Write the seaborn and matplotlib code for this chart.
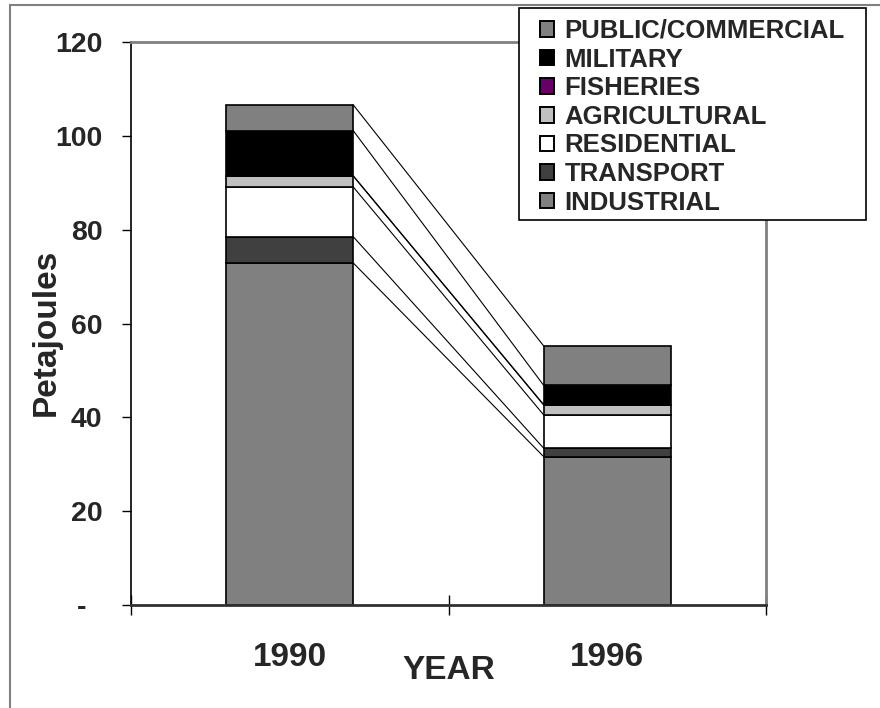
import numpy as np
import seaborn as sns
import matplotlib.pyplot as plt
from matplotlib.patches import Patch, Rectangle
from matplotlib.ticker import FixedLocator

# valeurs (Petajoules)
years = ['1990', '1996']
sectors = ['INDUSTRIAL', 'TRANSPORT', 'RESIDENTIAL', 'AGRICULTURAL',
           'FISHERIES', 'MILITARY', 'PUBLIC/COMMERCIAL']
industrial = [72.9, 31.6]
transport = [5.6, 1.8]
residential = [10.6, 7.1]
agricultural = [2.3, 2.1]
fisheries = [0.1, 0.1]
military = [9.6, 4.1]
public_commercial = [5.5, 8.4]
y_ticks = [0, 20, 40, 60, 80, 100, 120]
y_tick_labels = ['-  ', '20', '40', '60', '80', '100', '120']

colours = ['#808080', '#404040', '#ffffff', '#c0c0c0', '#660066', '#000000', '#808080']

sns.set_style('white')
plt.rcParams['font.family'] = ['Liberation Sans', 'DejaVu Sans']
plt.rcParams['font.weight'] = 'bold'

fig = plt.figure(figsize=(8.8, 7.08), dpi=100)
ax = fig.add_axes([131/880, 1-605/708, (766-131)/880, (605-42)/708])

# barres empilées
values = [industrial, transport, residential, agricultural, fisheries, military, public_commercial]
bottom = np.zeros(len(years))
tops = []
for name, vals, col in zip(sectors, values, colours):
    sns.barplot(x=years, y=vals, order=years, bottom=bottom, color=col, saturation=1,
                width=0.4, edgecolor='black', linewidth=1.2, errorbar=None, ax=ax)
    bottom = bottom + np.array(vals)
    tops.append(bottom.copy())

# lignes de liaison entre les deux barres
for top in tops:
    ax.plot([0.2, 0.8], top, color='black', lw=0.8, zorder=1)

ax.set_xlim(-0.5, 1.5)
ax.set_ylim(0, 120)
ax.set_yticks(y_ticks)
ax.set_yticklabels(y_tick_labels, fontsize=20.5, fontweight='bold')
ax.tick_params(axis='y', direction='out', length=6.5, width=1, color='black', pad=14, left=True)

ax.set_xticks([0, 1])
ax.set_xticklabels(years, fontsize=24, fontweight='bold')
ax.tick_params(axis='x', which='major', length=0, pad=27)
ax.xaxis.set_minor_locator(FixedLocator([-0.5, 0.5, 1.5]))
ax.tick_params(axis='x', which='minor', direction='inout', length=15, width=1,
               color='black', bottom=True)

ax.set_xlabel('YEAR', fontsize=24, fontweight='bold')
ax.xaxis.set_label_coords(0.5, -0.1155)
ax.xaxis.label.set_va('center')
ax.set_ylabel('Petajoules', fontsize=24, fontweight='bold')
ax.yaxis.set_label_coords(-0.134, 0.485)
ax.yaxis.label.set_va('center')

ax.spines['left'].set_color('black')
ax.spines['left'].set_linewidth(1.2)
ax.spines['bottom'].set_color('#303030')
ax.spines['bottom'].set_linewidth(2)
for s in ['top', 'right']:
    ax.spines[s].set_color('#808080')
    ax.spines[s].set_linewidth(2)

# cadre de la légende
fig.add_artist(Rectangle((519/880, 1-220/708), (866-519)/880, (220-8)/708,
                         transform=fig.transFigure, facecolor='white',
                         edgecolor='black', lw=1.2, zorder=4))
handles = [Patch(facecolor=c, edgecolor='black', linewidth=1.4, label=s)
           for s, c in zip(sectors[::-1], colours[::-1])]
fig.legend(handles=handles, loc='upper left', bbox_to_anchor=(540/880, 1-19/708),
           bbox_transform=fig.transFigure, frameon=False, borderpad=0, borderaxespad=0,
           handlelength=0.55, handleheight=0.55, handletextpad=0.4, labelspacing=0.18,
           prop={'size': 18.5, 'weight': 'bold'})

# bordure grise de la figure
fig.add_artist(Rectangle((10/880, -0.1), 1.2, 1-5/708+0.1, transform=fig.transFigure,
                         fill=False, edgecolor='#808080', lw=1.5))

fig.savefig('out.png', dpi=100)
